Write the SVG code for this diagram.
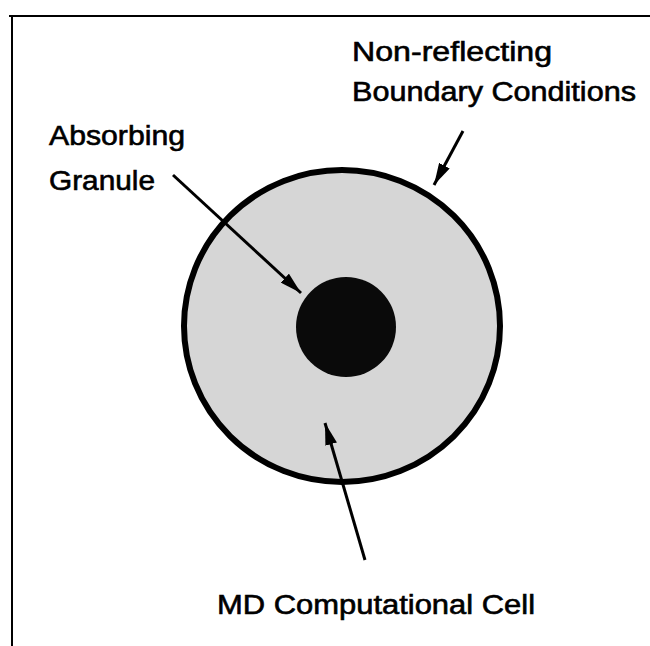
<svg xmlns="http://www.w3.org/2000/svg" width="650" height="646" viewBox="0 0 650 646">
<style>
.lbl{font-family:"Liberation Sans",Arial,Helvetica,sans-serif;font-size:27px;fill:#000;stroke:#000;stroke-width:0.6}
.conn{stroke:#000;stroke-width:3;fill:none}
</style>
<defs>
<marker id="ah2" viewBox="0 0 22 12" refX="22" refY="6" markerWidth="22" markerHeight="12" markerUnits="userSpaceOnUse" orient="auto">
<path d="M0,0 L22,6 L0,12 z" fill="#000"/>
</marker>
</defs>
<rect width="650" height="646" fill="#fff"/>
<g id="frame">
<path d="M9,16 H650 M12,16 V646" stroke="#000" stroke-width="2" fill="none"/>
</g>
<g id="cell">
<ellipse cx="342" cy="326" rx="158" ry="156" fill="#d6d6d6" stroke="#000" stroke-width="6"/>
</g>
<g id="granule">
<circle cx="346" cy="327" r="50" fill="#0a0a0a"/>
</g>
<g id="connectors">
<line class="conn" x1="173" y1="175" x2="301" y2="293" marker-end="url(#ah2)"/>
<line class="conn" x1="463" y1="131" x2="434" y2="185" marker-end="url(#ah2)"/>
<line class="conn" x1="365" y1="560" x2="325" y2="423" marker-end="url(#ah2)"/>
</g>
<g id="label-absorbing">
<text class="lbl" x="49" y="145" textLength="136" lengthAdjust="spacingAndGlyphs">Absorbing</text>
<text class="lbl" x="49" y="190" textLength="106" lengthAdjust="spacingAndGlyphs">Granule</text>
</g>
<g id="label-boundary">
<text class="lbl" x="352" y="61" textLength="200" lengthAdjust="spacingAndGlyphs">Non-reflecting</text>
<text class="lbl" x="352" y="101" textLength="284" lengthAdjust="spacingAndGlyphs">Boundary Conditions</text>
</g>
<g id="label-md">
<text class="lbl" x="217" y="614" textLength="318" lengthAdjust="spacingAndGlyphs">MD Computational Cell</text>
</g>
</svg>
